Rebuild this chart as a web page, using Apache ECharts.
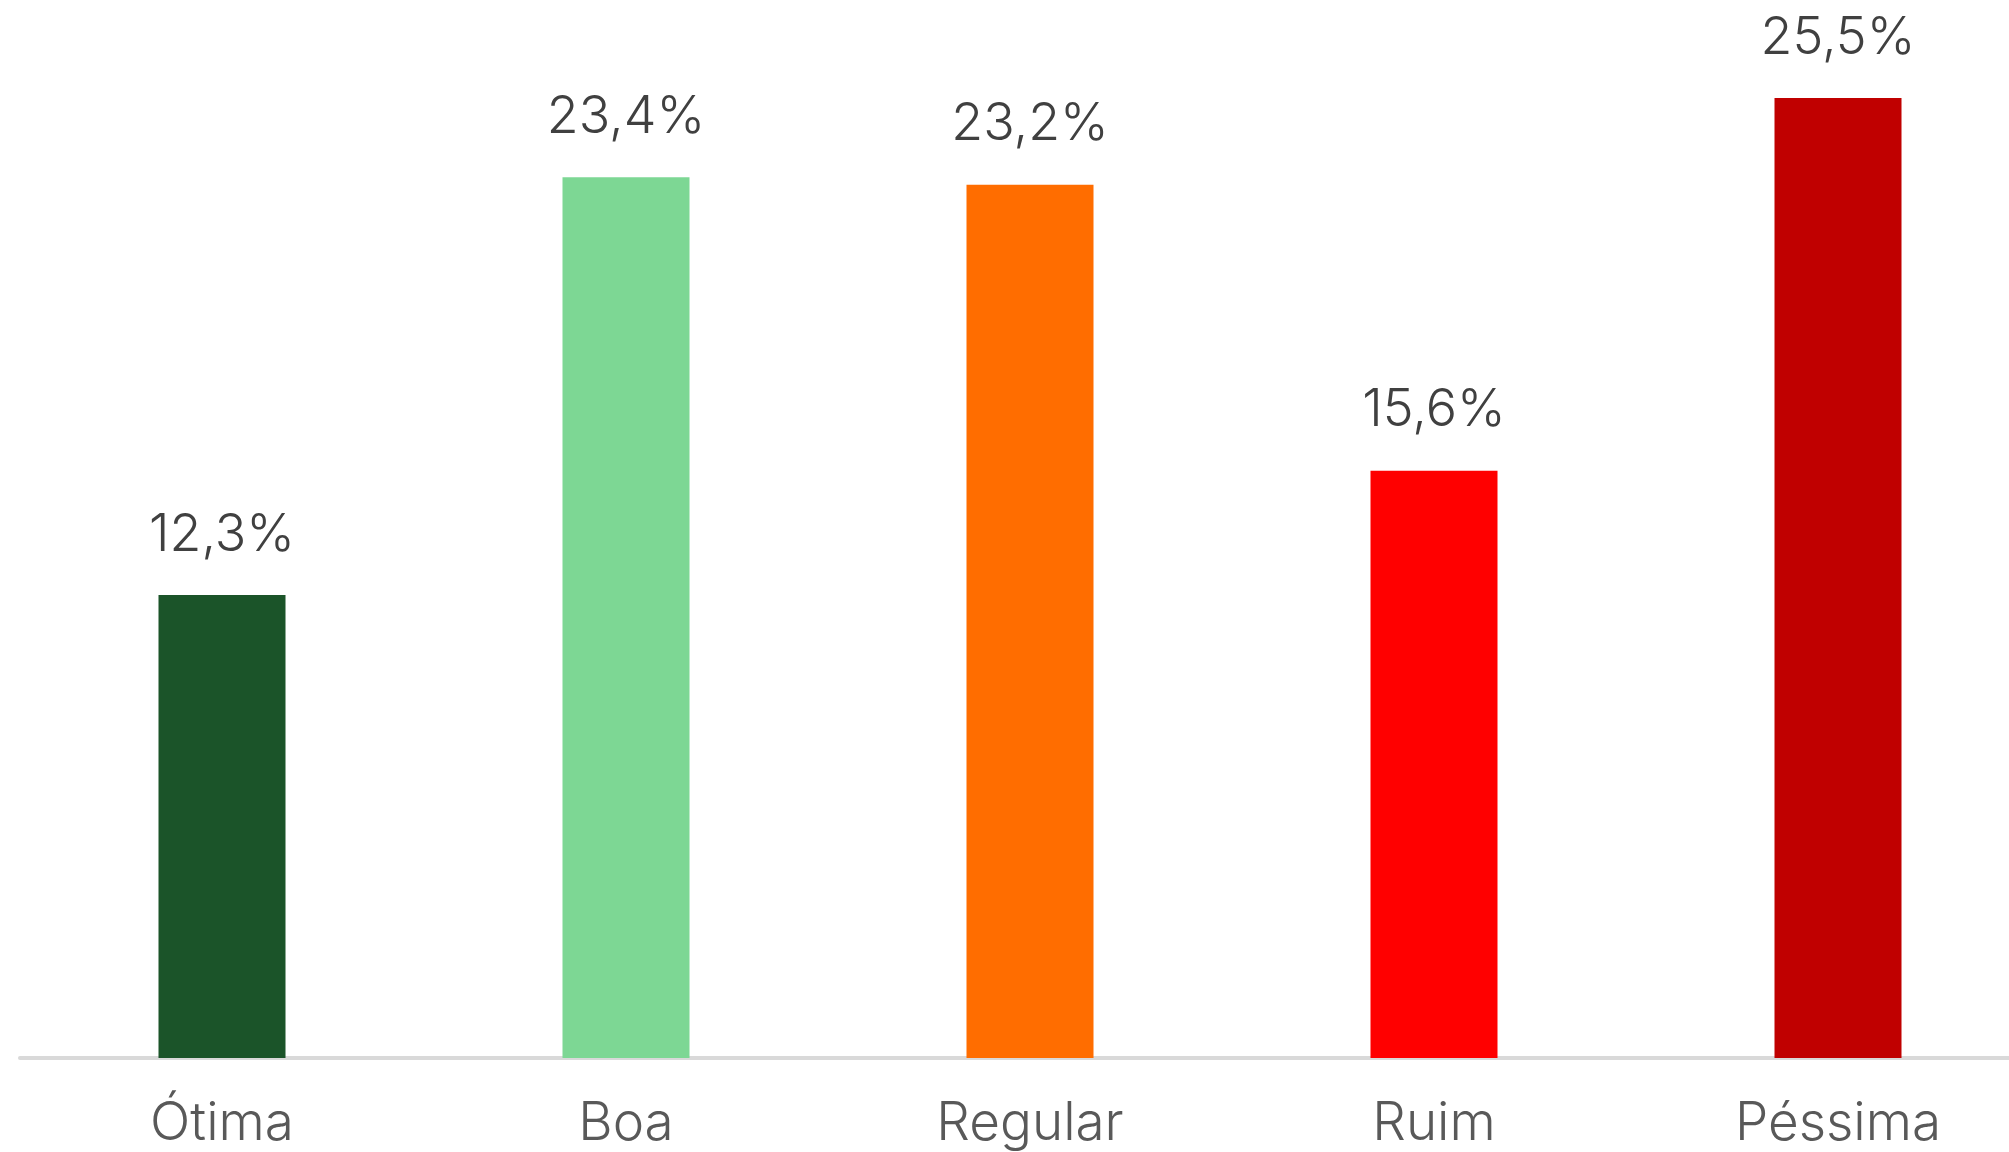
<!DOCTYPE html>
<html>
<head>
<meta charset="utf-8">
<script src="https://cdn.jsdelivr.net/npm/echarts@6/dist/echarts.min.js"></script>
<style>
    html, body {margin: 0; padding: 0; background: #fff;}
    #chart {width: 2009px; height: 1152px;}
</style>
</head>
<body>
<div id="chart"></div>
<script>
    // categorias e valores (%)
    var categorias = ['Ótima', 'Boa', 'Regular', 'Ruim', 'Péssima'];
    var valores = [12.3, 23.4, 23.2, 15.6, 25.5];
    var cores = ['#1b5429', '#7dd794', '#ff6d00', '#ff0000', '#c00000'];

    var myChart = echarts.init(document.getElementById('chart'));

    var dados = valores.map(function (v, i) {
        return {value: v, itemStyle: {color: cores[i]}};
    });

    var option = {
        animation: false,
        grid: {
            left: 20,
            right: -31,
            top: 4,
            bottom: 94,
            outerBoundsMode: 'none'
        },
        xAxis: {
            type: 'category',
            data: categorias,
            axisLine: {lineStyle: {color: '#d9d9d9', width: 4}},
            axisTick: {show: false},
            axisLabel: {
                color: '#595959',
                fontFamily: 'Inter',
                fontWeight: 300,
                fontSize: 53,
                margin: 40
            }
        },
        yAxis: {
            type: 'value',
            min: 0,
            max: 28,
            show: false,
            splitLine: {show: false}
        },
        series: [{
            type: 'bar',
            data: dados,
            barWidth: 127,
            label: {
                show: true,
                position: 'top',
                distance: 34,
                color: '#404040',
                fontFamily: 'Inter',
                fontWeight: 300,
                fontSize: 52,
                formatter: function (p) {
                    return p.value.toFixed(1).replace('.', ',') + '%';
                }
            }
        }]
    };

    myChart.setOption(option);
</script>
</body>
</html>
